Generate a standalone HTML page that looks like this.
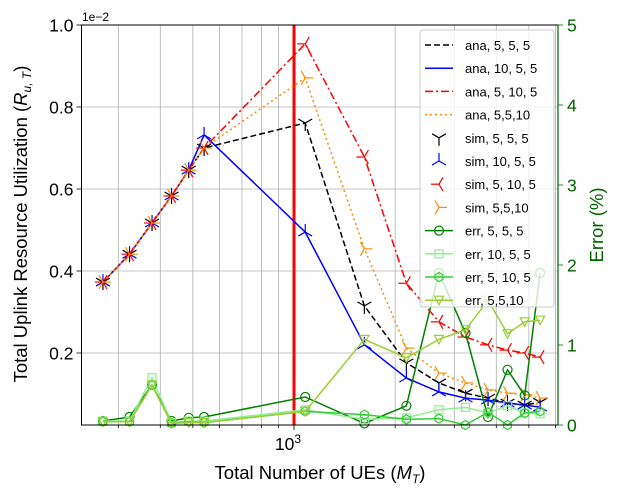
<!DOCTYPE html>
<html><head><meta charset="utf-8"><style>
body{margin:0;background:#fff;width:617px;height:494px;overflow:hidden}
svg{font-family:"Liberation Sans","DejaVu Sans",sans-serif}
</style></head><body>
<svg id="c" width="617" height="494" viewBox="0 0 617 494" xmlns="http://www.w3.org/2000/svg"></svg>
<script>
const xs=[270,324,378,432,486,540,1080,1620,2160,2700,3240,3780,4320,4860,5400];
const ana555=[0.373,0.441,0.517,0.583,0.646,0.70,0.761,0.315,0.176,0.127,0.102,0.09,0.078,0.073,0.08];
const ana1055=[0.373,0.441,0.517,0.583,0.646,0.732,0.495,0.22,0.139,0.105,0.09,0.085,0.078,0.073,0.068];
const ana5105=[0.373,0.441,0.517,0.583,0.646,0.70,0.954,0.678,0.37,0.276,0.239,0.22,0.207,0.2,0.19];
const ana5510=[0.373,0.441,0.517,0.583,0.646,0.70,0.871,0.454,0.212,0.151,0.127,0.11,0.102,0.098,0.09];
const err555=[0.05,0.1,0.5,0.05,0.09,0.1,0.35,0.02,0.24,1.9,1.15,0.1,0.69,0.37,1.9];
const err1055=[0.05,0.05,0.59,0.03,0.05,0.05,0.19,0.07,0.09,0.19,0.22,0.15,0.24,0.15,0.14];
const err5105=[0.04,0.04,0.5,0.02,0.04,0.03,0.17,0.13,0.07,0.08,0.0,0.16,0.0,0.15,0.17];
const err5510=[0.04,0.04,0.5,0.02,0.03,0.03,0.17,1.07,0.84,1.07,1.19,1.56,1.14,1.29,1.31];
const yTicks=[0.2,0.4,0.6,0.8,1.0];
const rTicks=[0,1,2,3,4,5];
const NS="http://www.w3.org/2000/svg";
const svg=document.getElementById('c');
const L=81.5,R=558,T=25,B=425;
const X=v=>294+336*Math.log10(v/1000);
const Y=v=>435-v*410;
const YR=v=>425-v*80;
function el(t,a,p){const e=document.createElementNS(NS,t);for(const k in a)e.setAttribute(k,a[k]);(p||svg).appendChild(e);return e;}
const grid=el('g',{});


[300,400,500,600,700,800,900,1000,2000,3000,4000,5000,6000].forEach(v=>{
 el('line',{x1:X(v),x2:X(v),y1:T,y2:B,stroke:'#b0b0b0','stroke-width':0.8},grid);
 el('line',{x1:X(v),x2:X(v),y1:B,y2:B+(v==1000?5:3),stroke:'#000','stroke-width':0.8},grid);
});
yTicks.forEach(v=>{
 el('line',{x1:L,x2:R,y1:Y(v),y2:Y(v),stroke:'#b0b0b0','stroke-width':0.8},grid);
 el('line',{x1:L-5,x2:L,y1:Y(v),y2:Y(v),stroke:'#000','stroke-width':0.8},grid);
 const t=el('text',{x:L-8,y:Y(v)+6.5,'text-anchor':'end','font-size':17.5},grid);t.textContent=v.toFixed(1);
});
rTicks.forEach(v=>{
 el('line',{x1:R,x2:R+5,y1:YR(v),y2:YR(v),stroke:'#006400','stroke-width':0.8},grid);
 const t=el('text',{x:R+9,y:YR(v)+6.5,'font-size':17.5,fill:'#006400'},grid);t.textContent=v;
});
const vl=el('line',{x1:294,x2:294,y1:T,y2:B,stroke:'#ff0000','stroke-width':3});


function path(xsv,ys,yf){return xsv.map((x,i)=>(i?'L':'M')+X(x).toFixed(1)+' '+yf(ys[i]).toFixed(1)).join(' ');}
function tri(g,cx,cy,rot,col){const r=8;[0,120,240].forEach(a=>{const ang=(a+rot)*Math.PI/180;el('line',{x1:cx,y1:cy,x2:cx+r*Math.sin(ang),y2:cy-r*Math.cos(ang),stroke:col,'stroke-width':1.2},g);});}
function marker(g,type,cx,cy,col){
 if(type=='o')el('circle',{cx,cy,r:4.5,fill:'none',stroke:col,'stroke-width':1.2},g);
 else if(type=='s')el('rect',{x:cx-4,y:cy-4,width:8,height:8,fill:'none',stroke:col,'stroke-width':1.2},g);
 else if(type=='h'){let p=[];for(let k=0;k<6;k++){const a=k*Math.PI/3;p.push((cx+4.5*Math.sin(a)).toFixed(1)+','+(cy-4.5*Math.cos(a)).toFixed(1));}el('polygon',{points:p.join(' '),fill:'none',stroke:col,'stroke-width':1.2},g);}
 else if(type=='v')el('polygon',{points:`${cx-4.5},${cy-4} ${cx+4.5},${cy-4} ${cx},${cy+4.5}`,fill:'none',stroke:col,'stroke-width':1.2},g);
 else tri(g,cx,cy,{'1':180,'2':0,'3':270,'4':90}[type],col);
}
const anaS=[['ana-555',ana555,'#000','6,3','1'],['ana-1055',ana1055,'#0000ff','','2'],['ana-5105',ana5105,'#ff0000','8,3,2,3','3'],['ana-5510',ana5510,'#ff8c00','2,3','4']];
anaS.forEach(s=>{const g=el('g',{});
 el('path',{d:path(xs,s[1],Y),fill:'none',stroke:s[2],'stroke-width':1.5,'stroke-dasharray':s[3]},g);});
anaS.forEach(s=>{const g=el('g',{});
 xs.forEach((x,i)=>marker(g,s[4],X(x),Y(s[1][i]),s[2]));});
const errS=[['err-555',err555,'#008000','o'],['err-1055',err1055,'#90ee90','s'],['err-5105',err5105,'#32cd32','h'],['err-5510',err5510,'#9acd32','v']];
errS.forEach(s=>{const g=el('g',{});
 el('path',{d:path(xs,s[1],YR),fill:'none',stroke:s[2],'stroke-width':1.5},g);
 xs.forEach((x,i)=>marker(g,s[3],X(x),YR(s[1][i]),s[2]));});
el('rect',{x:L,y:T,width:R-L,height:B-T,fill:'none',stroke:'#000','stroke-width':1});
el('line',{x1:R,x2:R,y1:T,y2:B,stroke:'#006400','stroke-width':1.2});
const lg=el('g',{});
el('rect',{x:420,y:30,width:134,height:277,rx:3,fill:'rgba(255,255,255,0.8)',stroke:'#ccc'},lg);
const labels=['ana, 5, 5, 5','ana, 10, 5, 5','ana, 5, 10, 5','ana, 5,5,10','sim, 5, 5, 5','sim, 10, 5, 5','sim, 5, 10, 5','sim, 5,5,10','err, 5, 5, 5','err, 10, 5, 5','err, 5, 10, 5','err, 5,5,10'];
labels.forEach((lab,i)=>{const y=45+i*23.2;const e=el('g',{},lg);
 if(i<4){el('line',{x1:425,x2:453,y1:y,y2:y,stroke:anaS[i][2],'stroke-width':1.5,'stroke-dasharray':anaS[i][3]},e);}
 else if(i<8){marker(e,anaS[i-4][4],439,y,anaS[i-4][2]);}
 else{const s=errS[i-8];el('line',{x1:425,x2:453,y1:y,y2:y,stroke:s[2],'stroke-width':1.5},e);marker(e,s[3],439,y,s[2]);}
 const t=el('text',{x:465,y:y+5,'font-size':13},e);t.textContent=lab;});
</script>
<svg style="position:absolute;left:0;top:0" width="617" height="494">
<text x="82" y="21" font-size="12" font-family="Liberation Sans,sans-serif">1e−2</text>
<text x="288" y="450" font-size="17.5" font-family="Liberation Sans,sans-serif" text-anchor="middle">10<tspan dy="-7" font-size="12">3</tspan></text>
<text x="320" y="479" font-size="18.5" font-family="Liberation Sans,sans-serif" text-anchor="middle">Total Number of UEs (<tspan font-style="italic">M</tspan><tspan font-style="italic" font-size="12" dy="4">T</tspan><tspan dy="-4">)</tspan></text>
<text transform="translate(27,224) rotate(-90)" font-size="18.5" font-family="Liberation Sans,sans-serif" text-anchor="middle">Total Uplink Resource Utilization (<tspan font-style="italic">R</tspan><tspan font-style="italic" font-size="12" dy="4">u, T</tspan><tspan dy="-4">)</tspan></text>
<text transform="translate(603,225) rotate(-90)" font-size="18.5" fill="#006400" font-family="Liberation Sans,sans-serif" text-anchor="middle">Error (%)</text>
</svg>
</body></html>
